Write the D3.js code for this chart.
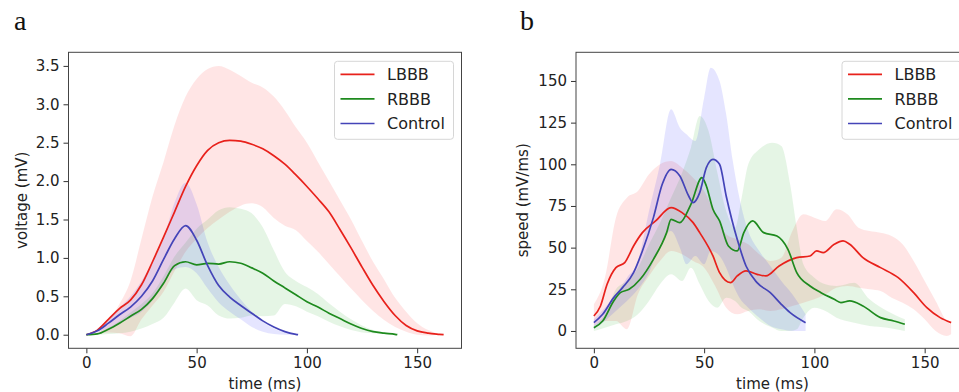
<!DOCTYPE html>
<html>
<head>
<meta charset="utf-8">
<script src="https://cdn.jsdelivr.net/npm/d3@7"></script>
<style>
  html, body { margin: 0; padding: 0; background: #fff; }
  svg { display: block; font-family: "DejaVu Sans", sans-serif; }
</style>
</head>
<body>
<div id="chart"></div>
<script>
// ---- data ----
const groups = ["LBBB", "RBBB", "Control"];

// panel a: voltage (mV)
const timeLBBB_a = [0,5,10,15,20,25,30,35,40,45,50,55,60,65,70,75,80,85,90,95,100,105,110,115,120,125,130,135,140,145,150,155,160,162];
const voltLBBB = [0,0.06,0.2,0.34,0.45,0.65,0.95,1.27,1.6,1.93,2.2,2.4,2.5,2.53,2.52,2.48,2.42,2.33,2.22,2.08,1.93,1.77,1.6,1.37,1.13,0.88,0.64,0.43,0.25,0.12,0.05,0.02,0.005,0];
const voltLBBBHi = [0,0.03,0.18,0.4,0.7,1.25,1.8,2.25,2.73,3.1,3.33,3.46,3.5,3.45,3.37,3.28,3.22,3.1,2.92,2.7,2.5,2.25,2.0,1.75,1.5,1.22,0.95,0.72,0.48,0.3,0.15,0.06,0.01,0];
const voltLBBBLo = [0,0.01,0.03,0.02,-0.02,0.2,0.38,0.56,0.83,1.08,1.25,1.39,1.5,1.6,1.68,1.71,1.66,1.52,1.42,1.36,1.22,1.08,0.92,0.76,0.6,0.45,0.31,0.19,0.1,0.04,0,-0.01,0,0];

const timeRBBB_a = [0,5,10,15,20,25,30,35,40,45,50,55,60,65,70,75,80,85,90,95,100,105,110,115,120,125,130,135,140,141];
const voltRBBB = [0,0.01,0.07,0.15,0.24,0.33,0.47,0.67,0.9,0.95,0.91,0.93,0.92,0.95,0.93,0.87,0.8,0.7,0.61,0.52,0.43,0.36,0.28,0.21,0.14,0.08,0.04,0.02,0.005,0];
const voltRBBBHi = [0,0.02,0.09,0.18,0.29,0.4,0.54,0.76,1.02,1.2,1.38,1.5,1.62,1.66,1.64,1.58,1.4,1.1,0.82,0.7,0.62,0.53,0.41,0.3,0.2,0.12,0.06,0.03,0.01,0];
const voltRBBBLo = [0,0,0.01,0.02,0.04,0.08,0.14,0.22,0.42,0.6,0.45,0.38,0.25,0.21,0.22,0.25,0.24,0.25,0.4,0.37,0.3,0.24,0.17,0.11,0.06,0.03,0.02,0.01,0,0];

const timeCtrl_a = [0,5,10,15,20,25,30,35,40,45,50,55,60,65,70,75,80,85,90,95,96];
const voltCtrl = [0,0.05,0.15,0.26,0.36,0.5,0.7,0.98,1.25,1.42,1.23,0.9,0.64,0.49,0.38,0.28,0.18,0.1,0.04,0.005,0];
const voltCtrlHi = [0,0.06,0.2,0.35,0.5,0.7,0.95,1.25,1.72,1.98,1.7,1.2,0.88,0.65,0.46,0.3,0.17,0.08,0.03,0.01,0];
const voltCtrlLo = [0,0.03,0.08,0.15,0.22,0.3,0.45,0.68,0.85,0.88,0.8,0.6,0.42,0.3,0.2,0.1,0.04,0.01,0,0,0];

// panel b: speed (mV/ms)
const timeLBBB_b = [0,3,6,10,14,18,22,28,35,40,45,48,54,57,62,65,69,74,78,84,92,98,101,104,109,113,116,122,130,138,145,151,157,162];
const speedLBBB = [9,15,28,38,41,51,59,66,74,71,65,59,45,35,29,33,36,34,33,39,44,45,48,47,52,54,52,44,38,32,23,14,8,5];
const bandTimeLBBB_b = [0,5,10,15,20,25,30,35,40,45,50,55,60,65,70,75,80,85,90,95,100,105,110,115,120,125,130,135,140,145,150,155,160,162];
const speedLBBBHi = [16,32,68,80,84,94,100,102,98,92,84,70,58,55,52,46,42,44,60,70,68,66,73,70,62,60,59,57,52,42,30,18,6,4];
const speedLBBBLo = [3,6,6,1,22,33,42,48,46,42,38,27,14,10,12,13,12,13,15,17,19,22,26,27,26,25,24,20,17,13,7,0,-3,-2];

const timeRBBB_b = [0,4,9,12,16,21,27,33,35,39,44,49,51,54,57,61,65,68,72,77,83,88,92,98,103,109,112,116,122,130,136,141];
const speedRBBB = [2,6,18,23,25,31,43,59,67,65,76,92,87,73,66,51,48,59,66,59,57,49,35,27,23,19,17,18,15,8,6,4];
const bandTimeRBBB_b = [0,5,10,15,20,25,30,35,40,44,48,52,56,60,64,67,70,75,81,85,89,92,95,100,105,110,118,125,133,141];
const speedRBBBHi = [3,10,25,30,38,52,65,80,95,110,129,120,95,72,62,80,100,109,113,111,88,62,40,32,28,27,29,19,12,7];
const speedRBBBLo = [0,2,4,6,10,18,28,34,30,38,28,18,14,20,18,14,12,6,2,0,0,1,8,14,12,8,5,3,2,0];

const timeCtrl_b = [0,4,9,13,18,22,27,31,35,39,43,45,48,51,54,57,60,65,69,74,80,85,89,96];
const speedCtrl = [5,10,20,26,35,48,68,88,97,93,81,77,83,98,103,100,81,55,39,29,23,16,11,5];
const bandTimeCtrl_b = [0,5,10,15,20,25,30,35,39,42,46,50,53,57,60,63,66,70,75,80,85,90,96];
const speedCtrlHi = [7,14,22,32,42,72,100,133,122,118,114,140,158,150,130,102,80,60,48,39,30,22,10];
const speedCtrlLo = [1,6,12,18,25,35,52,60,50,40,45,40,48,45,38,28,20,14,8,3,1,0,0];

const timeTicks = [0, 50, 100, 150];
const voltTicks = [0, 0.5, 1, 1.5, 2, 2.5, 3, 3.5];
const speedTicks = [0, 25, 50, 75, 100, 125, 150];

// ---- styling ----
const lineColor = { LBBB: "#e8211b", RBBB: "#1e8a1e", Control: "#4444b8" };
const fillColor = { LBBB: "#ff0000", RBBB: "#00a000", Control: "#0000ff" };

const width = 959, height = 392;
const svg = d3.select("#chart").append("svg")
  .attr("width", width)
  .attr("height", height);

function zip(t, v) { return t.map((x, i) => [x, v[i]]); }
function zipBand(t, lo, hi) { return t.map((x, i) => [x, lo[i], hi[i]]); }

function drawPanel(opts) {
  const { left, top, w, h, yDomain, yTicks, yFormat, ylabel, ylabelX, letter, letterX, series } = opts;

  const x = d3.scaleLinear().domain([-8.1, 170.1]).range([left, left + w]);
  const y = d3.scaleLinear().domain(yDomain).range([top + h, top]);

  const g = svg.append("g");

  // bands first
  const area = d3.area()
    .x(d => x(d[0]))
    .y0(d => y(d[1]))
    .y1(d => y(d[2]))
    .curve(d3.curveMonotoneX);

  series.forEach(s => {
    g.append("path")
      .datum(zipBand(s.bandT, s.lo, s.hi))
      .attr("fill", fillColor[s.name])
      .attr("fill-opacity", 0.1)
      .attr("d", area);
  });

  const line = d3.line()
    .x(d => x(d[0]))
    .y(d => y(d[1]))
    .curve(d3.curveMonotoneX);

  series.forEach(s => {
    g.append("path")
      .datum(zip(s.t, s.mean))
      .attr("fill", "none")
      .attr("stroke", lineColor[s.name])
      .attr("stroke-width", 1.7)
      .attr("d", line);
  });

  // axes
  const xAxis = g.append("g")
    .attr("transform", `translate(0,${top + h})`)
    .call(d3.axisBottom(x).tickValues(timeTicks).tickSize(5).tickPadding(4));
  const yAxis = g.append("g")
    .attr("transform", `translate(${left},0)`)
    .call(d3.axisLeft(y).tickValues(yTicks).tickFormat(yFormat).tickSize(5).tickPadding(4));

  [xAxis, yAxis].forEach(a => {
    a.select(".domain").remove();
    a.selectAll("line").attr("stroke", "#333");
    a.selectAll("text")
      .attr("fill", "#222")
      .style("font-size", "15px")
      .style("font-family", "'DejaVu Sans', sans-serif");
  });

  // frame
  g.append("rect")
    .attr("x", left)
    .attr("y", top)
    .attr("width", w)
    .attr("height", h)
    .attr("fill", "none")
    .attr("stroke", "#444")
    .attr("stroke-width", 1);

  // axis labels
  g.append("text")
    .attr("x", left + w / 2)
    .attr("y", 389)
    .attr("text-anchor", "middle")
    .attr("fill", "#222")
    .style("font-size", "15px")
    .text("time (ms)");

  g.append("text")
    .attr("transform", `translate(${ylabelX},${top + h / 2}) rotate(-90)`)
    .attr("text-anchor", "middle")
    .attr("fill", "#222")
    .style("font-size", "15px")
    .text(ylabel);

  // panel letter
  g.append("text")
    .attr("x", letterX)
    .attr("y", 30)
    .attr("fill", "#111")
    .style("font-family", "'Liberation Serif', 'DejaVu Serif', serif")
    .style("font-size", "28px")
    .text(letter);

  // legend
  const lx = left + w - 127, ly = top + 9;
  const legend = g.append("g").attr("transform", `translate(${lx},${ly})`);
  legend.append("rect")
    .attr("width", 119)
    .attr("height", 78)
    .attr("rx", 3)
    .attr("fill", "#fff")
    .attr("fill-opacity", 0.8)
    .attr("stroke", "#d6d6d6");

  groups.forEach((name, i) => {
    const yy = 13 + i * 24.6;
    legend.append("line")
      .attr("x1", 6).attr("x2", 40)
      .attr("y1", yy).attr("y2", yy)
      .attr("stroke", lineColor[name])
      .attr("stroke-width", 1.7);
    legend.append("text")
      .attr("x", 52.5)
      .attr("y", yy + 6)
      .attr("fill", "#222")
      .style("font-size", "16px")
      .text(name);
  });
}

drawPanel({
  left: 68.5, top: 52.3, w: 393, h: 296,
  yDomain: [-0.177, 3.677],
  yTicks: voltTicks,
  yFormat: d3.format(".1f"),
  ylabel: "voltage (mV)",
  ylabelX: 27,
  letter: "a",
  letterX: 14,
  series: [
    { name: "LBBB", t: timeLBBB_a, mean: voltLBBB, bandT: timeLBBB_a, lo: voltLBBBLo, hi: voltLBBBHi },
    { name: "RBBB", t: timeRBBB_a, mean: voltRBBB, bandT: timeRBBB_a, lo: voltRBBBLo, hi: voltRBBBHi },
    { name: "Control", t: timeCtrl_a, mean: voltCtrl, bandT: timeCtrl_a, lo: voltCtrlLo, hi: voltCtrlHi }
  ]
});

drawPanel({
  left: 576, top: 52.3, w: 393, h: 296,
  yDomain: [-10.4, 167.2],
  yTicks: speedTicks,
  yFormat: d3.format("d"),
  ylabel: "speed (mV/ms)",
  ylabelX: 528,
  letter: "b",
  letterX: 520,
  series: [
    { name: "LBBB", t: timeLBBB_b, mean: speedLBBB, bandT: bandTimeLBBB_b, lo: speedLBBBLo, hi: speedLBBBHi },
    { name: "RBBB", t: timeRBBB_b, mean: speedRBBB, bandT: bandTimeRBBB_b, lo: speedRBBBLo, hi: speedRBBBHi },
    { name: "Control", t: timeCtrl_b, mean: speedCtrl, bandT: bandTimeCtrl_b, lo: speedCtrlLo, hi: speedCtrlHi }
  ]
});
</script>
</body>
</html>
